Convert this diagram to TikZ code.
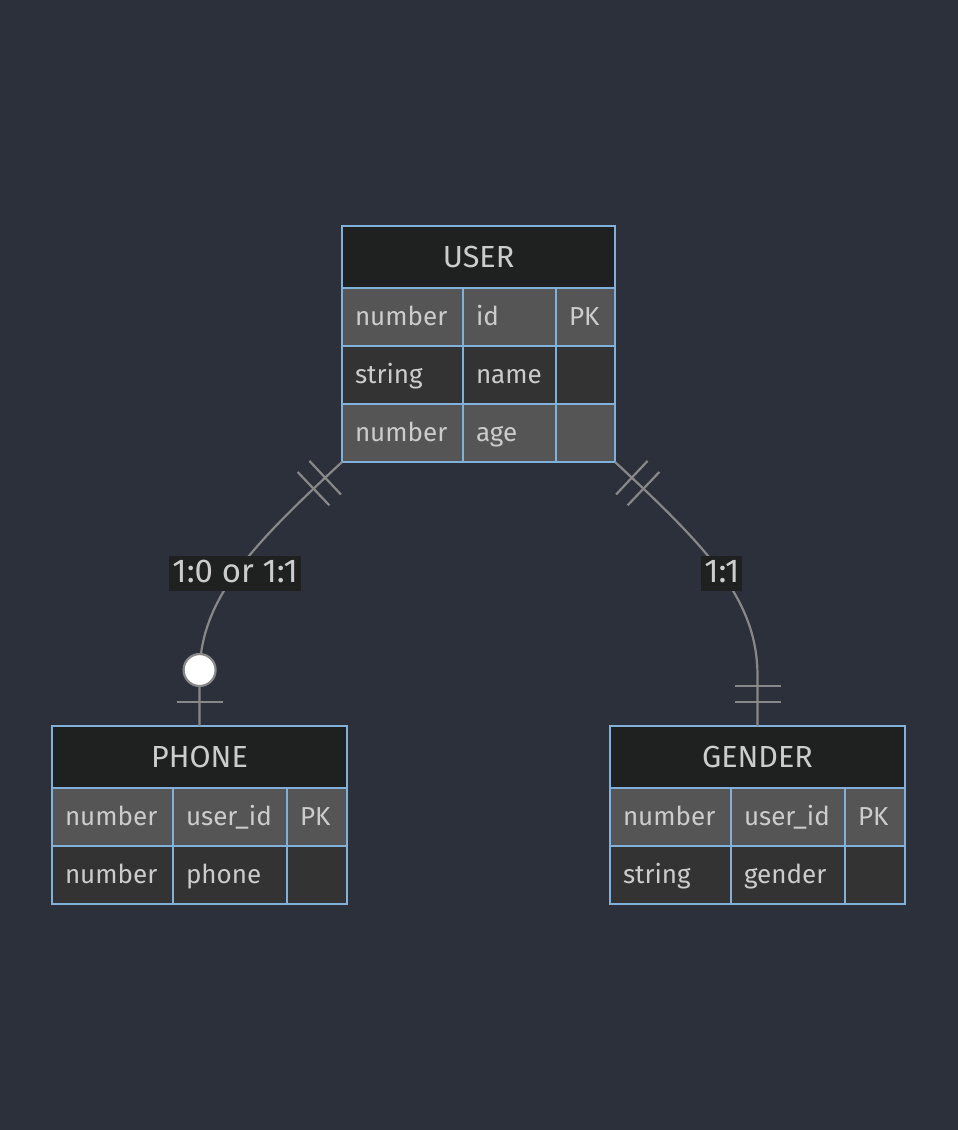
\documentclass[tikz,border=0pt]{standalone}
\usepackage{fontspec}
\setmainfont{Fira Sans}
\usetikzlibrary{positioning,calc,decorations.markings}
\definecolor{bgcol}{HTML}{2B303B}
\definecolor{hdrcol}{HTML}{1F2020}
\definecolor{rowlight}{HTML}{555555}
\definecolor{rowdark}{HTML}{333333}
\definecolor{bordercol}{HTML}{81B1DB}
\definecolor{txtcol}{HTML}{CCCCCC}
\definecolor{linecol}{HTML}{888888}
\tikzset{
  hdr/.style={draw=bordercol,line width=2pt,fill=hdrcol,text=txtcol,minimum width=#1,minimum height=62pt,
    inner sep=0pt,outer sep=0pt,font=\fontsize{30.5}{33}\selectfont},
  cell/.style={draw=bordercol,line width=2pt,text=txtcol,text width=#1,align=left,minimum height=58pt,
    text height=20pt,text depth=3pt,
    inner xsep=13pt,inner ysep=0pt,outer sep=0pt,anchor=north west,font=\fontsize{26}{30}\selectfont},
  light/.style={cell=#1,fill=rowlight},
  dark/.style={cell=#1,fill=rowdark},
  rel/.style={draw=linecol,line width=2.2pt},
  elabel/.style={fill=hdrcol,text=txtcol,inner xsep=3pt,inner ysep=2pt,text height=24pt,text depth=7pt,
    font=\fontsize{33}{36}\selectfont}
}
\pgfkeys{
  /pgf/decoration/onebar/.style={mark=at position #1 with {\draw[rel] (0pt,-23pt) -- (0pt,23pt);}},
  /pgf/decoration/zerocirc/.style={mark=at position #1 with {\draw[rel,fill=white] (0pt,0pt) circle (16pt);}}
}

\begin{document}
\begin{tikzpicture}[x=1pt,y=-1pt]

\fill[bgcol] (0,0) rectangle (958,1130);
\useasboundingbox (0,0) rectangle (958,1130);

% USER
\node[hdr=273pt] (user) at (478.5,257) {USER};
\node[light=95pt] (user-11) at (user.south west) {number};
\node[light=67pt] (user-12) at (user-11.north east) {id};
\node[light=33pt] (user-13) at (user-12.north east) {PK};
\node[dark=95pt] (user-21) at (user-11.south west) {string};
\node[dark=67pt] (user-22) at (user-21.north east) {name};
\node[dark=33pt] (user-23) at (user-22.north east) {};
\node[light=95pt] (user-31) at (user-21.south west) {number};
\node[light=67pt] (user-32) at (user-31.north east) {age};
\node[light=33pt] (user-33) at (user-32.north east) {};

% PHONE
\node[hdr=295pt] (phone) at (199.5,757) {PHONE};
\node[light=95pt] (phone-11) at (phone.south west) {number};
\node[light=88pt] (phone-12) at (phone-11.north east) {user\_id};
\node[light=34pt] (phone-13) at (phone-12.north east) {PK};
\node[dark=95pt] (phone-21) at (phone-11.south west) {number};
\node[dark=88pt] (phone-22) at (phone-21.north east) {phone};
\node[dark=34pt] (phone-23) at (phone-22.north east) {};

% GENDER
\node[hdr=295pt] (gender) at (757.5,757) {GENDER};
\node[light=95pt] (gender-11) at (gender.south west) {number};
\node[light=88pt] (gender-12) at (gender-11.north east) {user\_id};
\node[light=34pt] (gender-13) at (gender-12.north east) {PK};
\node[dark=95pt] (gender-21) at (gender-11.south west) {string};
\node[dark=88pt] (gender-22) at (gender-21.north east) {gender};
\node[dark=34pt] (gender-23) at (gender-22.north east) {};

% relations
\draw[rel,postaction={decorate,decoration={markings,onebar=23pt,onebar=39pt,zerocirc=-56pt,onebar=-24pt}}]
  (user-31.south west) .. controls +(-95,88) and +(0,-75) .. ($(phone.north)+(0,-50)$)
  node[pos=0.5,elabel] (lbl-phone) {1:0 or 1:1} -- (phone.north);
\draw[rel,postaction={decorate,decoration={markings,onebar=23pt,onebar=39pt,onebar=-40pt,onebar=-24pt}}]
  (user-33.south east) .. controls +(95,88) and +(0,-75) .. ($(gender.north)+(0,-50)$)
  node[pos=0.5,elabel] (lbl-gender) {1:1} -- (gender.north);

\end{tikzpicture}
\end{document}
